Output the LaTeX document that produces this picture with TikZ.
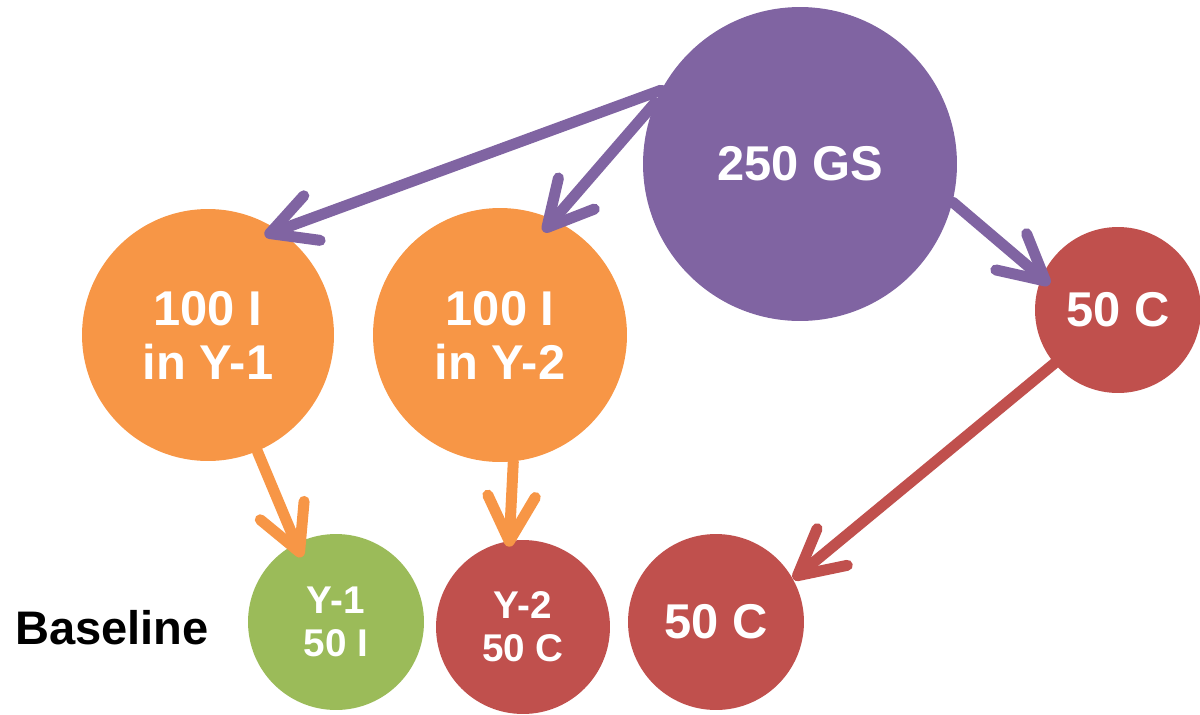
\documentclass[tikz,border=0pt]{standalone}
\usepackage{fontspec}
\setmainfont{Liberation Sans}
\usetikzlibrary{arrows.meta}
\definecolor{gspurple}{HTML}{8064A2}
\definecolor{inorange}{HTML}{F79646}
\definecolor{cred}{HTML}{C0504D}
\definecolor{igreen}{HTML}{9BBB59}
\tikzset{bubble/.style={circle,inner sep=0pt,text=white,align=center,
   font=\bfseries\fontsize{27.8}{30.7}\selectfont},
 smallbubble/.style={bubble,font=\bfseries\fontsize{22}{24.4}\selectfont},
 flow/.style={line width=0.22cm,line cap=round,
   -{Straight Barb[length=0.9cm,width=0.95cm,round]}},
 }

\begin{document}
\begin{tikzpicture}[x=0.02cm,y=-0.02cm]
        \useasboundingbox (0,0) rectangle (1200,714);
        % top row
        \node[bubble,fill=gspurple,minimum size=6.28cm] (gs) at (800,164) {250 GS};
        \node[bubble,fill=inorange,minimum size=5.04cm] (iy1) at (208,335) {100 I\\in Y-1};
        \node[bubble,fill=inorange,minimum size=5.08cm] (iy2) at (500,335) {100 I\\in Y-2};
        \node[bubble,fill=cred,minimum size=3.32cm] (c1) at (1118,310) {50 C};

        % baseline row
        \node[font=\bfseries\fontsize{26.8}{30}\selectfont] (base) at (112,628) {Baseline};
        \node[smallbubble,fill=igreen,minimum size=3.52cm] (y1) at (336,622) {Y-1\\50 I};
        \node[smallbubble,fill=cred,minimum size=3.48cm] (y2) at (523,627) {Y-2\\50 C};
        \node[bubble,fill=cred,minimum size=3.52cm] (c2) at (716,622) {50 C};

        \draw[flow,gspurple,shorten >=-0.3cm] (gs.152.8) -- (iy1.56);
        \draw[flow,gspurple,shorten >=-0.32cm] (gs.157.9) -- (iy2.65);
        \draw[flow,gspurple,shorten >=-0.22cm] (gs.-14.6) -- (c1.157);
        \draw[flow,inorange,shorten >=-0.3cm] (iy1.-67.4) -- (y1.117);
        \draw[flow,inorange,shorten >=-0.12cm] (iy2.-84.5) -- (y2.99);
        \draw[flow,cred] (c1.220.8) -- (c2.29.5);
\end{tikzpicture}
\end{document}
